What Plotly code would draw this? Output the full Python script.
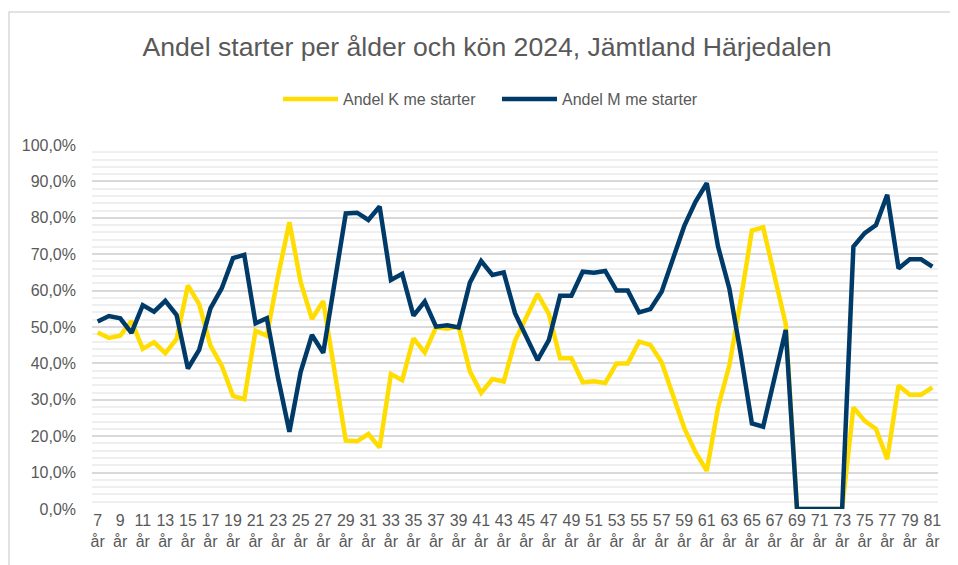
import plotly.graph_objects as go

ages = list(range(7, 82))
categories = [f"{a} år" for a in ages]
tick_values = categories[::2]
tick_labels = [c.replace(" ", "<br>") for c in tick_values]

andel_k = [48.5, 47.0, 47.6, 51.6, 44.0, 45.8, 42.8, 46.7, 61.4, 56.3,
           44.9, 39.4, 31.1, 30.2, 49.0, 47.6, 64.1, 78.8, 62.3, 52.2,
           57.1, 38.0, 18.8, 18.6, 20.6, 16.9, 37.1, 35.4, 46.9, 43.0,
           49.9, 49.5, 50.1, 37.8, 31.9, 35.7, 35.0, 46.2, 52.5, 59.1,
           53.6, 41.4, 41.4, 34.8, 35.1, 34.6, 40.0, 40.0, 46.0, 45.1,
           40.3, 31.4, 22.3, 15.6, 10.5, 27.9, 39.4, 57.2, 76.5, 77.4,
           64.1, 50.8, 0, 0, 0, 0, 0, 27.9, 24.2, 22.0,
           13.7, 33.9, 31.4, 31.4, 33.4]

andel_m = [51.5, 53.0, 52.4, 48.4, 56.0, 54.2, 57.2, 53.3, 38.6, 43.7,
           55.1, 60.6, 68.9, 69.8, 51.0, 52.4, 35.9, 21.2, 37.7, 47.8,
           42.9, 62.0, 81.2, 81.4, 79.4, 83.1, 62.9, 64.6, 53.1, 57.0,
           50.1, 50.5, 49.9, 62.2, 68.1, 64.3, 65.0, 53.8, 47.5, 40.9,
           46.4, 58.6, 58.6, 65.2, 64.9, 65.4, 60.0, 60.0, 54.0, 54.9,
           59.7, 68.6, 77.7, 84.4, 89.5, 72.1, 60.6, 42.8, 23.5, 22.6,
           35.9, 49.2, 0, 0, 0, 0, 0, 72.1, 75.8, 78.0,
           86.3, 66.1, 68.6, 68.6, 66.6]

series_names = ["Andel K me starter", "Andel M me starter"]
series_colors = ["#FFDD00", "#003A68"]

FONT = "Liberation Sans, Arial, sans-serif"
GREY = "#595959"

W, H = 958, 565
PL, PR, PT, PB = 84, 930, 137, 501  # plot area in figure pixels

fig = go.Figure()
for name, vals, col in zip(series_names, [andel_k, andel_m], series_colors):
    fig.add_trace(go.Scatter(x=categories, y=vals, mode="lines", name=name,
                             line=dict(color=col, width=4.5, shape="linear")))

fig.update_layout(
    width=W, height=H,
    paper_bgcolor="white", plot_bgcolor="white",
    separators=", ",
    margin=dict(l=PL, r=W - PR, t=PT, b=H - PB, autoexpand=False),
    font=dict(family=FONT, color=GREY, size=16),
    title=dict(text="Andel starter per ålder och kön 2024, Jämtland Härjedalen",
               xref="container", yref="container", x=479/W, y=1-39/H,
               xanchor="center", yanchor="middle",
               font=dict(size=26.6, color=GREY, family=FONT)),
    legend=dict(orientation="h", xref="container", yref="container",
                x=489/W, y=1-91/H, xanchor="center", yanchor="middle",
                font=dict(size=16, color=GREY), itemwidth=55,
                entrywidth=149, entrywidthmode="pixels",
                bgcolor="rgba(0,0,0,0)"),
    showlegend=True,
)

fig.update_xaxes(type="category", categoryorder="array", categoryarray=categories,
                 range=[-0.5, len(categories) - 0.5],
                 tickmode="array", tickvals=tick_values, ticktext=tick_labels,
                 tickangle=0, showgrid=False, zeroline=False, showline=False,
                 ticks="", tickfont=dict(size=16, color=GREY), automargin=False)

fig.update_yaxes(range=[0, 100], dtick=10, tick0=0, tickformat=".1f", ticksuffix="%",
                 showgrid=True, gridcolor="#D9D9D9", gridwidth=1.5,
                 minor=dict(dtick=2, showgrid=True, gridcolor="#EFEFEF", gridwidth=1.5),
                 zeroline=False, showline=False, ticks="",
                 ticklabelstandoff=15,
                 tickfont=dict(size=16, color=GREY), automargin=False)

# chart frame
pw, ph = PR - PL, PB - PT
fig.add_shape(type="rect", xref="paper", yref="paper",
              x0=(1 - PL) / pw, x1=1.2, y0=-0.4, y1=(PB - 4) / ph,
              line=dict(color="#D9D9D9", width=1.5), layer="below")

fig.write_html("out.html")
